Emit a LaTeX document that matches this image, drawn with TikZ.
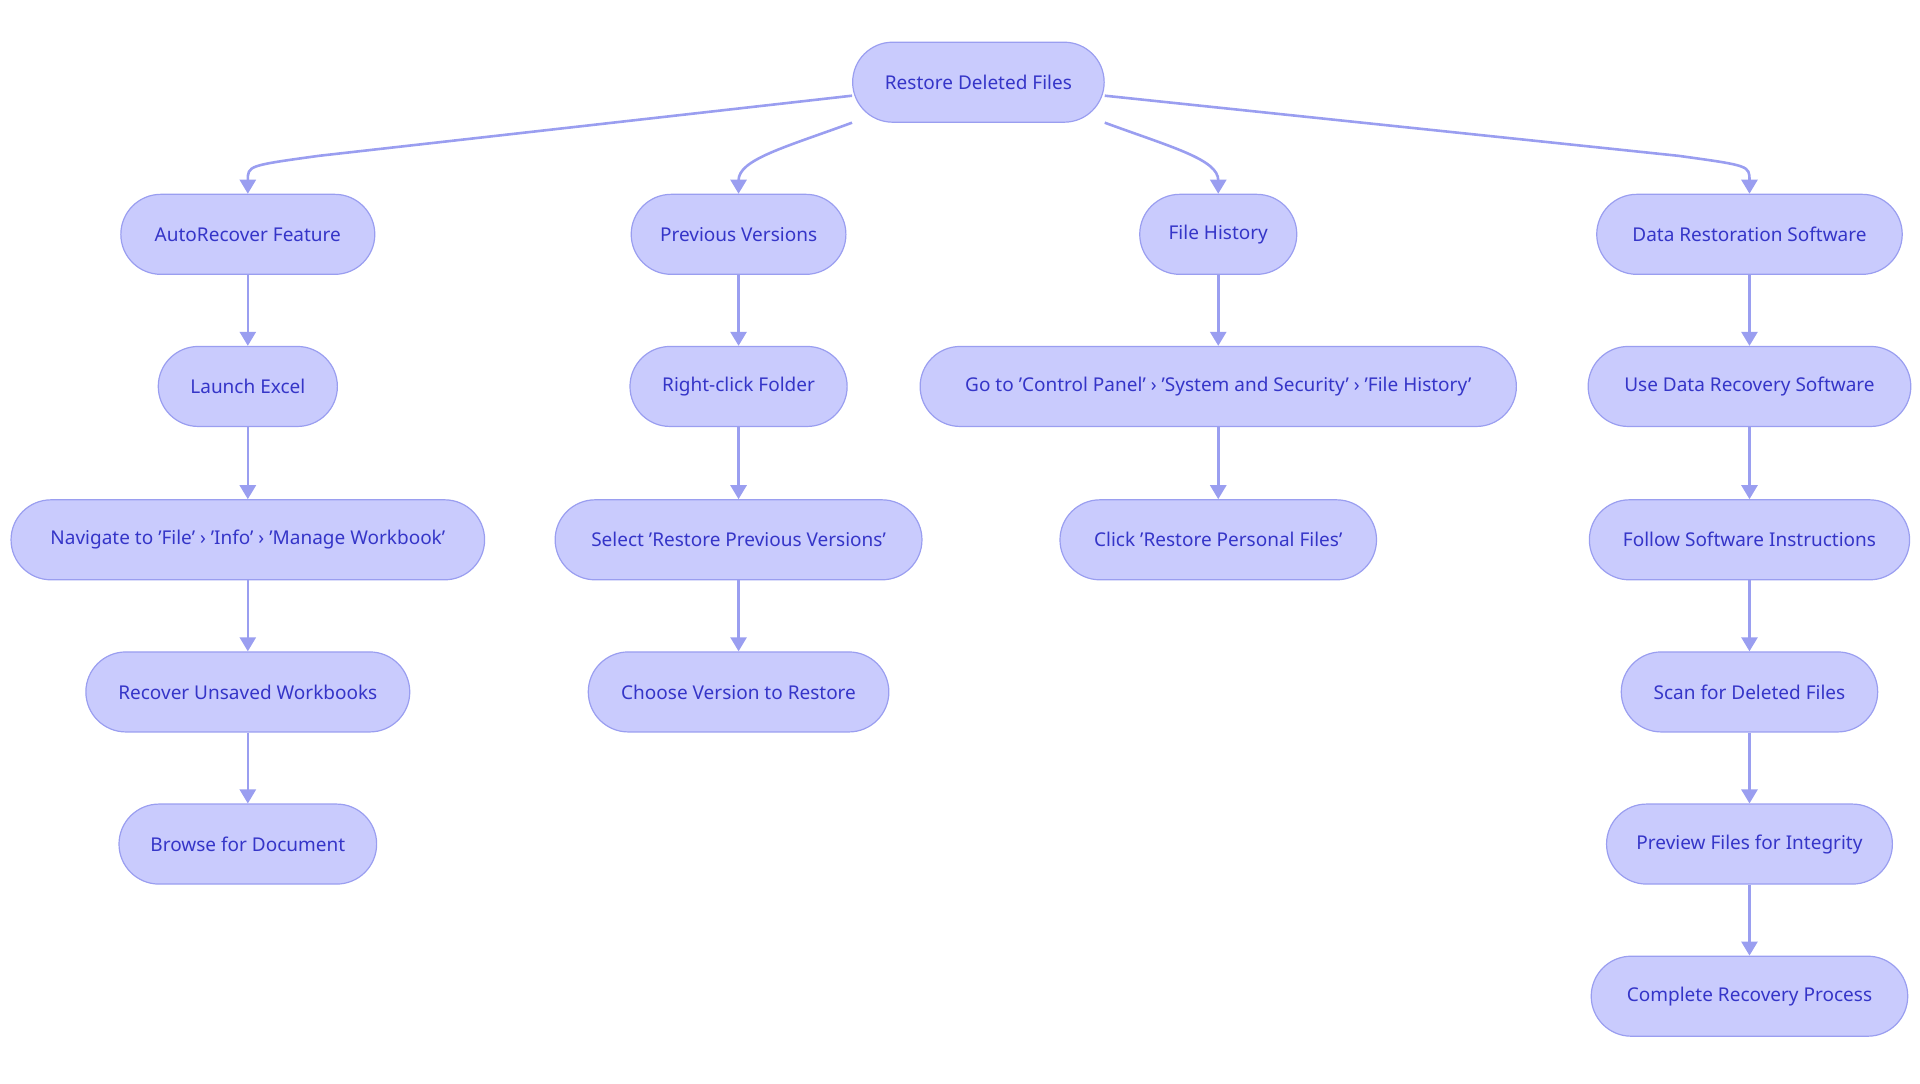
\documentclass[tikz,border=0pt]{standalone}
\usepackage{fontspec}
\setmainfont{Noto Sans}
\usetikzlibrary{arrows.meta,calc}
\definecolor{nfill}{HTML}{C9CBFD}
\definecolor{nline}{HTML}{9A9EF0}
\definecolor{ntext}{HTML}{3535C8}
\begin{document}
\begin{tikzpicture}[x=1.2268pt,y=-1.2268pt,
  box/.style={draw=nline,line width=1.2pt,fill=nfill,rounded corners=40pt,minimum height=80pt,text=ntext,font=\fontsize{19}{22}\selectfont,inner sep=0pt},
  arr/.style={draw=nline,line width=2.6pt,-{Triangle[width=16pt,length=14pt]}}]
\useasboundingbox (0,0) rectangle (1565,882.8);
\newcommand\bx[5]{\node[box,minimum width=#4*1.2268pt] (#1) at (#2,#3) {#5};}
\bx{root}{797.5}{67}{205}{Restore Deleted Files}
\bx{a1}{202}{191}{207}{AutoRecover Feature}
\bx{a2}{202}{315}{146}{Launch Excel}
\bx{a3}{202}{440}{386}{Navigate to 'File' › 'Info' › 'Manage Workbook'}
\bx{a4}{202}{564}{264}{Recover Unsaved Workbooks}
\bx{a5}{202}{688}{210}{Browse for Document}
\bx{b1}{602}{191}{175}{Previous Versions}
\bx{b2}{602}{315}{177}{Right-click Folder}
\bx{b3}{602}{440}{299}{Select 'Restore Previous Versions'}
\bx{b4}{602}{564}{245}{Choose Version to Restore}
\bx{c1}{993}{191}{128}{File History}
\bx{c2}{993}{315}{486}{Go to 'Control Panel' › 'System and Security' › 'File History'}
\bx{c3}{993}{440}{258}{Click 'Restore Personal Files'}
\bx{d1}{1426}{191}{249}{Data Restoration Software}
\bx{d2}{1426}{315}{263}{Use Data Recovery Software}
\bx{d3}{1426}{440}{261}{Follow Software Instructions}
\bx{d4}{1426}{564}{209}{Scan for Deleted Files}
\bx{d5}{1426}{688}{233}{Preview Files for Integrity}
\bx{d6}{1426}{812}{258}{Complete Recovery Process}
\draw[arr] ($(root.west)+(0,11)$) -- (260,127) .. controls (202,135) .. (a1.north);
\draw[arr] ($(root.west)+(0,33)$) .. controls (640,120) and (602,130) .. (b1.north);
\draw[arr] ($(root.east)+(0,33)$) .. controls (955,120) and (993,130) .. (c1.north);
\draw[arr] ($(root.east)+(0,11)$) -- (1368,127) .. controls (1426,135) .. (d1.north);
\foreach \u/\v in {a1/a2,a2/a3,a3/a4,a4/a5,b1/b2,b2/b3,b3/b4,c1/c2,c2/c3,d1/d2,d2/d3,d3/d4,d4/d5,d5/d6}
  \draw[arr] (\u) -- (\v);
\end{tikzpicture}
\end{document}
